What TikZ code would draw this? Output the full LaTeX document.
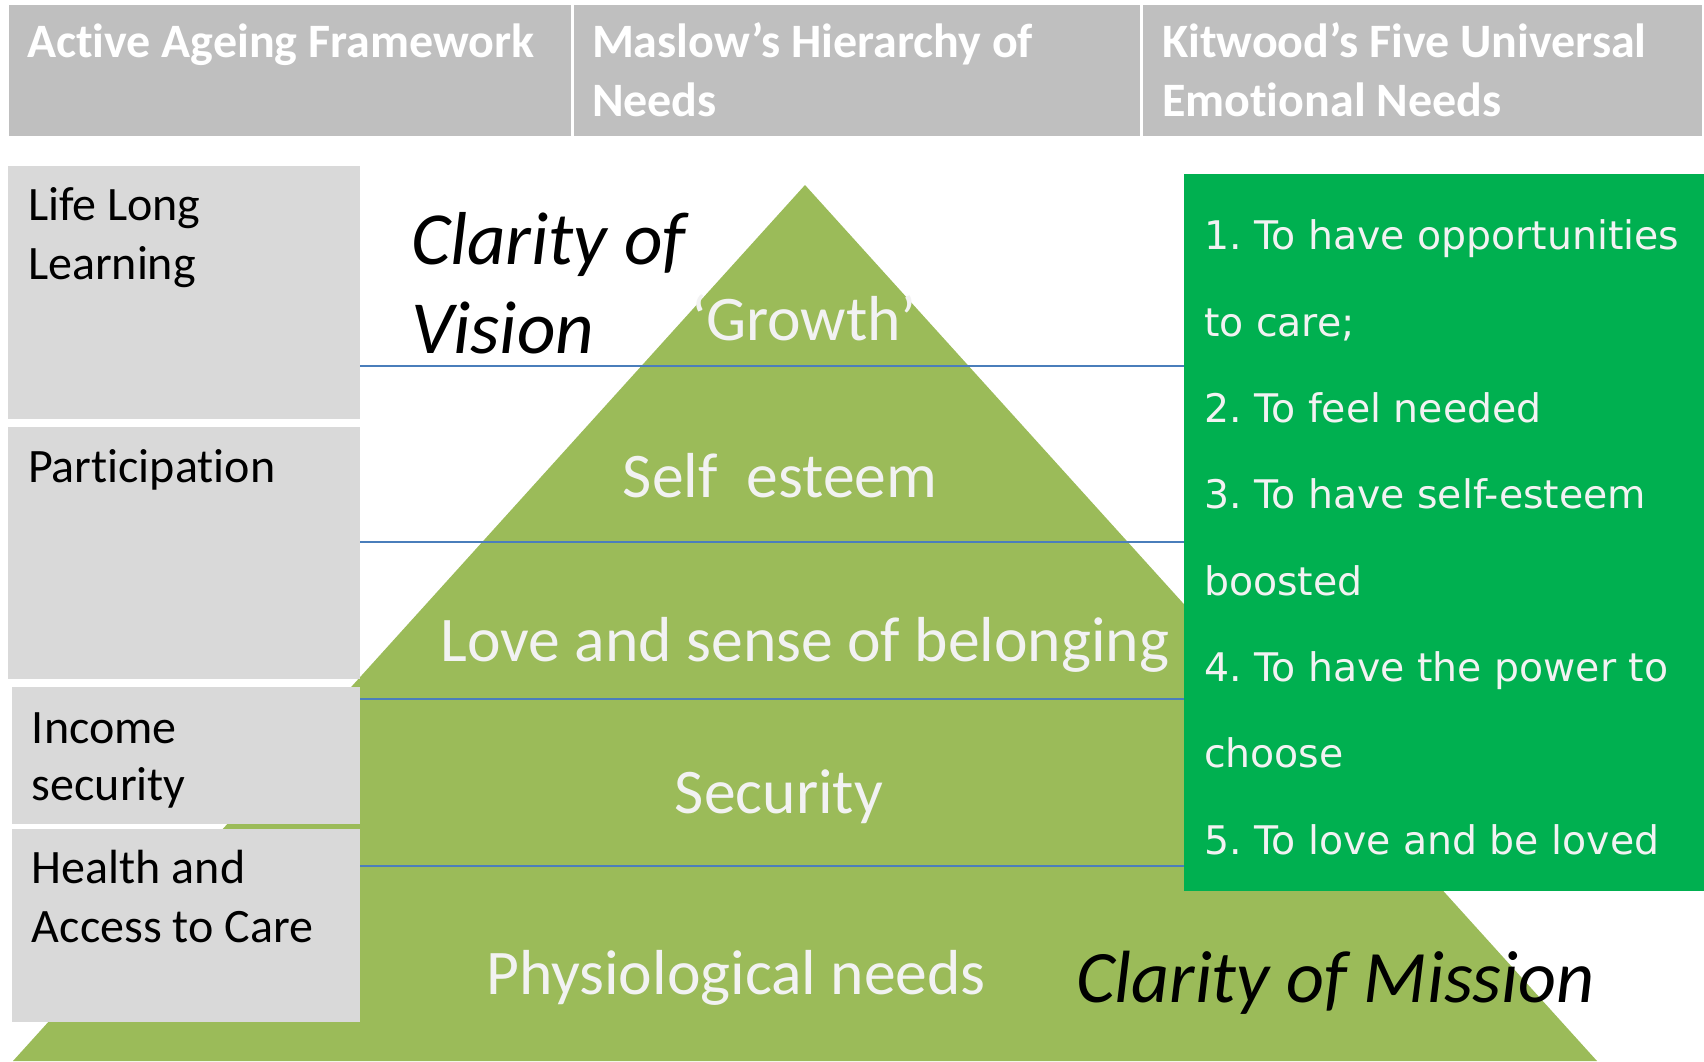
\documentclass[tikz,border=0pt]{standalone}
\usepackage{fontspec}
\setmainfont[Ligatures=NoCommon]{Carlito}
\newfontfamily\listfont{DejaVu Sans}
\definecolor{hdrgray}{HTML}{BFBFBF}
\definecolor{boxgray}{HTML}{D9D9D9}
\definecolor{pyrgreen}{HTML}{9BBB59}
\definecolor{listgreen}{HTML}{00B050}
\definecolor{rulblue}{HTML}{4A7EBB}
\definecolor{offwhite}{HTML}{F2F2F2}
\frenchspacing
\begin{document}
\begin{tikzpicture}[x=0.5pt,y=-0.5pt,
  every node/.style={inner sep=0pt, outer sep=0pt},
  hdrtext/.style={anchor=base west, text=white, align=left, font=\bfseries\fontsize{24}{29.5}\selectfont},
  boxtext/.style={anchor=base west, text=black, align=left, font=\fontsize{24}{29.5}\selectfont},
  pyrtext/.style={anchor=base, text=offwhite, font=\fontsize{31.8}{38}\selectfont},
  claritytext/.style={anchor=base west, text=black, align=left, font=\itshape\fontsize{37.5}{44.5}\selectfont},
  listtext/.style={anchor=base west, text=offwhite, align=left, font=\listfont\frenchspacing\fontsize{19.7}{43.15}\selectfont},
  levelrule/.style={draw=rulblue, line width=1pt}
]
\useasboundingbox (0,0) rectangle (1704,1061);
\fill[white] (0,0) rectangle (1704,1061);

% header cells
\fill[hdrgray] (9,5) rectangle (571,136);
\fill[hdrgray] (574,5) rectangle (1140,136);
\fill[hdrgray] (1143,5) rectangle (1702,136);
\node[hdrtext] (h1) at (27,57) {Active Ageing Framework};
\node[hdrtext] (h2) at (592,116) {Maslow’s Hierarchy of\\Needs};
\node[hdrtext] (h3) at (1162,116) {Kitwood’s Five Universal\\Emotional Needs};

% pyramid
\fill[pyrgreen] (805,185) -- (1597,1061) -- (13,1061) -- cycle;

% level rules
\coordinate (r1a) at (360,366); \coordinate (r1b) at (1184,366);
\coordinate (r2a) at (360,542); \coordinate (r2b) at (1184,542);
\coordinate (r3a) at (360,699); \coordinate (r3b) at (1184,699);
\coordinate (r4a) at (360,866); \coordinate (r4b) at (1184,866);
\draw[levelrule] (r1a) -- (r1b);
\draw[levelrule] (r2a) -- (r2b);
\draw[levelrule] (r3a) -- (r3b);
\draw[levelrule] (r4a) -- (r4b);

% left boxes
\fill[boxgray] (8,166) rectangle (360,419);
\fill[boxgray] (8,427) rectangle (360,679);
\fill[boxgray] (12,687) rectangle (360,824);
\fill[boxgray] (12,829) rectangle (360,1022);
\node[boxtext] (b1) at (28,279) {Life Long\\Learning};
\node[boxtext] (b2) at (28,482) {Participation};
\node[boxtext, font=\fontsize{24}{28.5}\selectfont] (b3) at (32,800) {Income\\security};
\node[boxtext] (b4) at (32,942) {Health and\\Access to Care};

% green list box
\fill[listgreen] (1184,174) rectangle (1704,891);
\node[listtext] (list) at (1204,854) {1. To have opportunities\\to care;\\2. To feel needed\\3. To have self-esteem\\boosted\\4. To have the power to\\choose\\5. To love and be loved};

% pyramid labels
\node[pyrtext] (growth) at (804,340) {‘Growth’};
\node[pyrtext] (esteem) at (780,497) {Self~~esteem};
\node[pyrtext] (love) at (805,661) {Love and sense of belonging};
\node[pyrtext] (security) at (779,813) {Security};
\node[pyrtext] (physio) at (736,994) {Physiological needs};

% clarity labels
\node[claritytext] (vision) at (411,353) {Clarity of\\Vision};
\node[claritytext, font=\itshape\fontsize{37}{44}\selectfont] (mission) at (1076,1002) {Clarity of Mission};
\end{tikzpicture}
\end{document}
